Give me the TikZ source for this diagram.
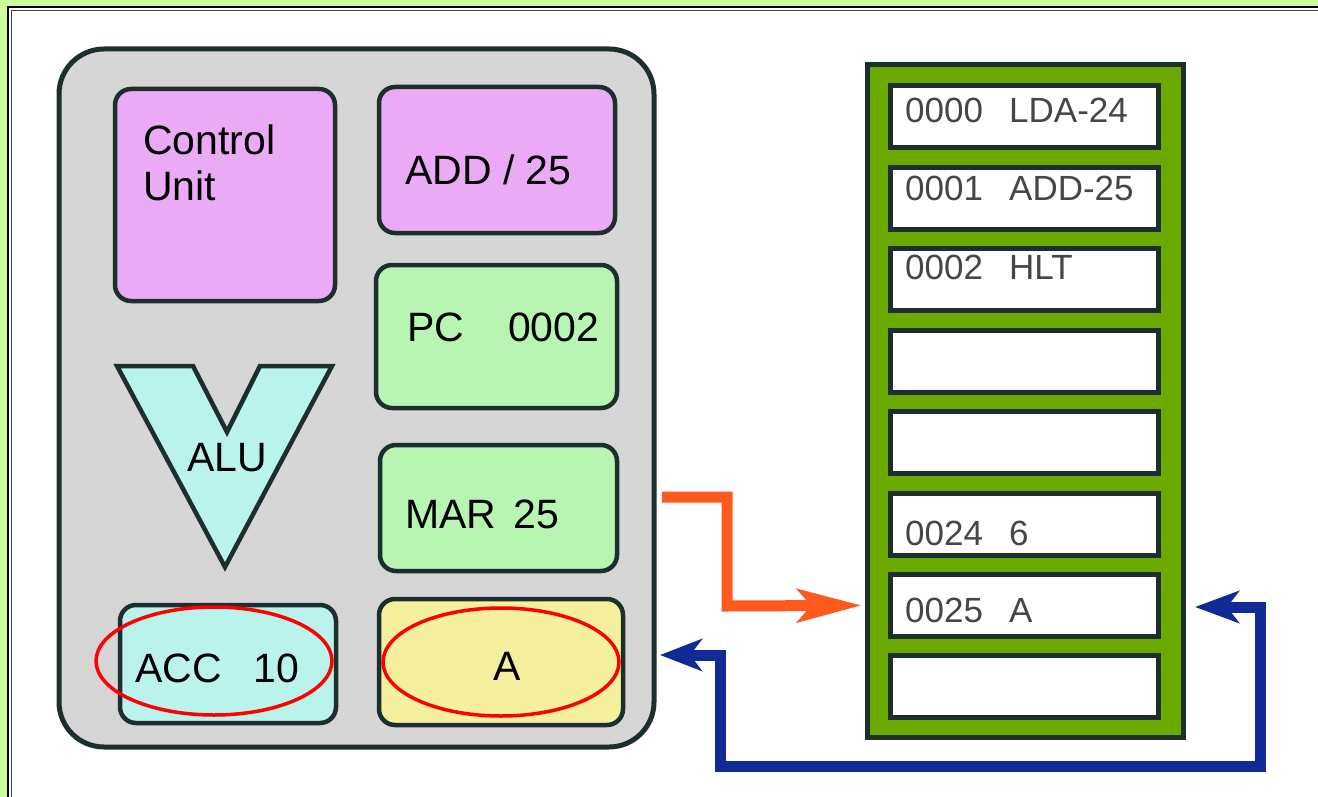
\documentclass[tikz,border=0pt]{standalone}
\usepackage{fontspec}
\setmainfont{Liberation Sans}
\usepackage{tikz}
\usetikzlibrary{arrows.meta}
\definecolor{framegreen}{RGB}{204,255,153}
\definecolor{edge}{RGB}{28,46,46}
\definecolor{cpugray}{RGB}{214,214,214}
\definecolor{cupink}{RGB}{235,170,245}
\definecolor{reggreen}{RGB}{185,245,178}
\definecolor{alucyan}{RGB}{186,242,236}
\definecolor{datayellow}{RGB}{245,240,158}
\definecolor{memgreen}{RGB}{106,170,0}
\definecolor{memgray}{RGB}{70,70,70}
\definecolor{busorange}{RGB}{255,90,30}
\definecolor{busblue}{RGB}{16,42,150}

\begin{document}
\begin{tikzpicture}[x=1pt,y=-1pt,
  reg/.style={draw=edge,line width=4.5pt,rounded corners=16pt,inner sep=0pt},
  cell/.style={draw=edge,fill=white,line width=5pt,minimum width=268pt,minimum height=62pt,inner sep=0pt},
  lbl/.style={font=\fontsize{41}{46}\selectfont,inner sep=0pt,anchor=west},
  memtxt/.style={font=\fontsize{35}{40}\selectfont,text=memgray,inner sep=0pt,anchor=west},
  ring/.style={draw=red,line width=3.5pt}]
\useasboundingbox (0,0) rectangle (1318,797);
\fill[framegreen] (0,0) rectangle (1318,797);
\fill[white] (7,6) rectangle (1318,797);
\draw[black,line width=2.5pt] (8.2,797) -- (8.2,7.2) -- (1318,7.2);
\draw[black!75,line width=1.5pt] (11.5,797) -- (11.5,10.5) -- (1318,10.5);

\node[draw=edge,fill=cpugray,line width=5pt,rounded corners=45pt,minimum width=595pt,minimum height=698pt] (cpu) at (356.5,398) {};
\node[reg,fill=cupink,minimum width=220pt,minimum height=212pt] (cu) at (225,195) {};
\node[reg,fill=cupink,minimum width=236pt,minimum height=146pt] (ir) at (497,160) {};
\node[reg,fill=reggreen,minimum width=241pt,minimum height=143pt] (pc) at (496.5,336.5) {};
\node[reg,fill=reggreen,minimum width=237pt,minimum height=126pt] (mar) at (498.5,508) {};
\node[reg,fill=alucyan,minimum width=216pt,minimum height=118pt] (acc) at (228,664) {};
\node[reg,fill=datayellow,minimum width=244pt,minimum height=126pt] (mdr) at (501,662) {};
\filldraw[fill=alucyan,draw=edge,line width=4.5pt] (117,366) -- (193,366) -- (227,432) -- (260,366) -- (332,366) -- (225,567) -- cycle;

\node[lbl] (cutop) at (143,140) {Control};
\node[lbl] (cubot) at (143,186) {Unit};
\node[lbl] (irtext) at (405,170) {ADD / 25};
\node[lbl] (pctext) at (407,327) {PC\hspace{44pt}0002};
\node[lbl] (martext) at (405,514) {MAR\hspace{17pt}25};
\node[lbl] (acctext) at (135,668) {ACC\hspace{32pt}10};
\node[lbl,anchor=center] (mdrtext) at (507,666) {A};
\node[lbl,anchor=center] (alu) at (227,458) {ALU};
\draw[ring] (214,661) ellipse [x radius=118pt,y radius=54pt];
\draw[ring] (501,662) ellipse [x radius=118pt,y radius=54pt];

\node[draw=edge,fill=memgreen,line width=5pt,minimum width=316pt,minimum height=672pt] (mem) at (1025,401) {};
\foreach \i in {0,...,7}
  \node[cell] (m\i) at (1024,{117+81.4*\i}) {};
\foreach \y/\adr/\val in {110/0000/LDA-24,188/0001/ADD-25,267/0002/HLT,533/0024/6,610/0025/A}{
  \node[memtxt] (a\adr) at (905,\y) {\adr};
  \node[memtxt] (v\adr) at (1009,\y) {\val};
}

\coordinate (ostart) at (662,497);
\coordinate (bstart) at (660,655);
\coordinate (bend) at (1195,607);
\draw[busorange,line width=11pt,-{Stealth[length=64pt,width=33pt,inset=14pt]},shorten >=3pt]
  (ostart) -- (727,497) -- (727,606) -- (mem.west |- m6);
\draw[busblue,line width=11pt,{Stealth[length=42pt,width=32pt,inset=12pt]}-{Stealth[length=44pt,width=32pt,inset=12pt]}]
  (bstart) -- (720,655) -- (720,766) -- (1260,766) -- (1260,607) -- (bend);
\end{tikzpicture}
\end{document}
